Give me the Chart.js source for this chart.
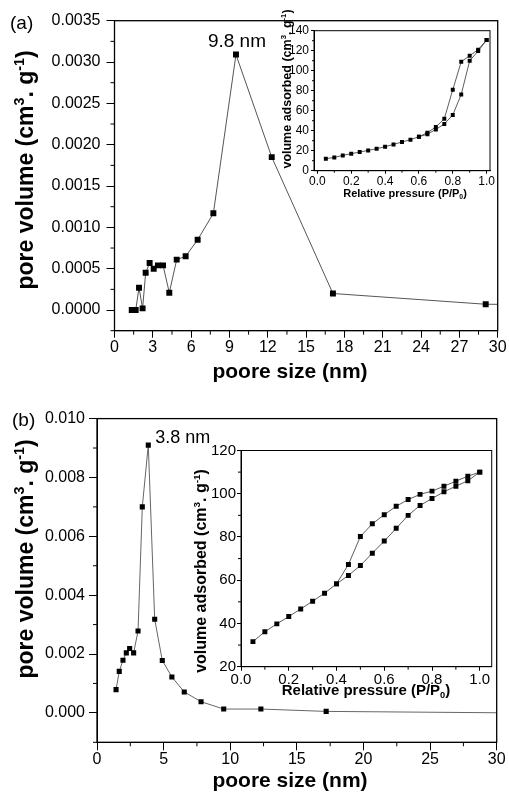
<!DOCTYPE html>
<html>
<head>
<meta charset="utf-8">
<script src="https://cdn.jsdelivr.net/npm/chart.js@4.4.0/dist/chart.umd.min.js"></script>
<style>
  html, body { margin: 0; padding: 0; background: #fff; }
  body { width: 509px; height: 793px; position: relative; overflow: hidden; }
  .box { position: absolute; }
</style>
</head>
<body>
<div class="box" style="left:0;top:0;width:509px;height:390px"><canvas id="mainA" width="509" height="390"></canvas></div>
<div class="box" style="left:0;top:390px;width:509px;height:403px"><canvas id="mainB" width="509" height="403"></canvas></div>
<div class="box" style="left:270px;top:0;width:239px;height:205px"><canvas id="insetA" width="239" height="205"></canvas></div>
<div class="box" style="left:180px;top:440px;width:329px;height:270px"><canvas id="insetB" width="329" height="270"></canvas></div>

<script>
// panel (a) pore size distribution
const poreSizeA = [1.35, 1.66, 1.92, 2.2, 2.44, 2.75, 3.07, 3.4, 3.8, 4.29, 4.87, 5.57, 6.51, 7.74, 9.51, 12.31, 17.1, 29.06, 50];
const poreVolA = [0.00000, 0.00000, 0.00027, 0.00002, 0.00045, 0.00057, 0.00050, 0.00054, 0.00054, 0.00021, 0.00061, 0.00065, 0.00085, 0.00117, 0.00309, 0.00185, 0.00020, 0.00007, 0.00005];
const xTicksA = [0, 3, 6, 9, 12, 15, 18, 21, 24, 27, 30];
const yTicksA = [0, 0.0005, 0.001, 0.0015, 0.002, 0.0025, 0.003, 0.0035];

// panel (a) inset isotherm
const pressureA = [0.05, 0.1, 0.15, 0.2, 0.25, 0.3, 0.35, 0.4, 0.45, 0.5, 0.55, 0.6, 0.65, 0.7, 0.75, 0.8, 0.85, 0.9, 0.95, 1.0];
const adsorbA = [12, 13.3, 15.3, 17, 18.7, 20.3, 22, 24, 26.3, 28.7, 31, 34, 36.5, 41.3, 46.7, 55.7, 76.3, 110, 119.7, 130.7];
const desPressureA = [1.0, 0.95, 0.9, 0.85, 0.8, 0.75, 0.7, 0.65, 0.6];
const desorbA = [130.7, 121, 115, 109, 81, 52, 43.7, 38, 34];
const insetXTicks = [0, 0.2, 0.4, 0.6, 0.8, 1.0];
const insetYTicksA = [0, 20, 40, 60, 80, 100, 120, 140];

// panel (b) pore size distribution
const poreSizeB = [1.43, 1.67, 1.95, 2.2, 2.45, 2.75, 3.08, 3.4, 3.85, 4.33, 4.9, 5.62, 6.55, 7.81, 9.51, 12.3, 17.2, 45];
const poreVolB = [0.00079, 0.00141, 0.00179, 0.00204, 0.00219, 0.00204, 0.00278, 0.0070, 0.0091, 0.00318, 0.00178, 0.00122, 0.00071, 0.00038, 0.00013, 0.00013, 0.00005, -0.00005];
const xTicksB = [0, 5, 10, 15, 20, 25, 30];
const yTicksB = [0, 0.002, 0.004, 0.006, 0.008, 0.010];

// panel (b) inset isotherm
const pressureB = [0.05, 0.1, 0.15, 0.2, 0.25, 0.3, 0.35, 0.4, 0.45, 0.5, 0.55, 0.6, 0.65, 0.7, 0.75, 0.8, 0.85, 0.9, 0.95, 1.0];
const adsorbB = [31.6, 36.2, 39.8, 43.2, 46.7, 50.3, 54, 58.3, 62.2, 66.8, 72.5, 78.1, 84, 90, 94.6, 97.8, 100.9, 103.5, 106, 110];
const desPressureB = [1.0, 0.95, 0.9, 0.85, 0.8, 0.75, 0.7, 0.65, 0.6, 0.55, 0.5, 0.45, 0.4];
const desorbB = [110, 108.1, 105.8, 103.5, 101.2, 99.7, 97.3, 94.2, 90.3, 86.1, 80.2, 67.3, 58.3];
const insetYTicksB = [20, 40, 60, 80, 100, 120];

const FONT = '"Liberation Sans", Arial, Helvetica, sans-serif';
Chart.defaults.font.family = FONT;
Chart.defaults.color = '#000';

function pts(xs, ys) {
  return xs.map((x, i) => ({ x, y: ys[i] }));
}

// text made of runs: [text, 0 normal | 1 superscript | -1 subscript]
function drawRuns(ctx, t) {
  const fontOf = (k) => `${t.bold ? 'bold ' : ''}${k ? t.size * 0.62 : t.size}px ${FONT}`;
  const parts = t.runs.map(([s, k]) => {
    ctx.font = fontOf(k);
    return { s, k, w: ctx.measureText(s).width };
  });
  const total = parts.reduce((a, p) => a + p.w, 0);
  ctx.save();
  ctx.translate(t.x, t.y);
  if (t.rot) ctx.rotate(t.rot);
  ctx.fillStyle = '#000';
  ctx.textBaseline = 'alphabetic';
  ctx.textAlign = 'left';
  let cx = t.align === 'left' ? 0 : -total / 2;
  parts.forEach(p => {
    ctx.font = fontOf(p.k);
    const dy = p.k === 1 ? -t.size * 0.38 : p.k === -1 ? t.size * 0.22 : 0;
    ctx.fillText(p.s, cx, dy);
    cx += p.w;
  });
  ctx.restore();
}

const volTitle = [['pore volume (cm', 0], ['3', 1], ['. g', 0], ['-1', 1], [')', 0]];
const adsTitle = [['volume adsorbed (cm', 0], ['3', 1], ['. g', 0], ['-1', 1], [')', 0]];
const presTitle = [['Relative pressure (P/P', 0], ['0', -1], [')', 0]];

const extras = {
  mainA: { frame: 1.3, minor: 4, texts: [
    { runs: [['(a)', 0]], x: 10, y: 29, size: 19, align: 'left' },
    { runs: volTitle, x: 33, y: 170, size: 23, bold: true, rot: -Math.PI / 2 },
    { runs: [['poore size (nm)', 0]], x: 290, y: 378, size: 21, bold: true },
    { runs: [['9.8 nm', 0]], data: [9.51, 0.00309], dx: 1, dy: -8, size: 19 }
  ] },
  mainB: { frame: 1.3, minor: 4, texts: [
    { runs: [['(b)', 0]], x: 12, y: 36, size: 19, align: 'left' },
    { runs: volTitle, x: 33, y: 169, size: 23, bold: true, rot: -Math.PI / 2 },
    { runs: [['poore size (nm)', 0]], x: 290, y: 397, size: 21, bold: true },
    { runs: [['3.8 nm', 0]], data: [3.85, 0.0091], dx: 7, dy: -2, size: 18, align: 'left' }
  ] },
  insetA: { frame: 1, minor: 2, texts: [
    { runs: adsTitle, x: 20.5, y: 89, size: 12.5, bold: true, rot: -Math.PI / 2 },
    { runs: presTitle, x: 135, y: 196.5, size: 11, bold: true }
  ] },
  insetB: { frame: 1, minor: 3, texts: [
    { runs: adsTitle, x: 26, y: 131, size: 16, bold: true, rot: -Math.PI / 2 },
    { runs: presTitle, x: 186, y: 254.5, size: 15, bold: true }
  ] }
};

const decor = {
  id: 'decor',
  afterDraw(chart) {
    const ex = extras[chart.canvas.id];
    if (!ex) return;
    const { ctx, chartArea: a } = chart;
    ctx.save();
    ctx.strokeStyle = '#000';
    ctx.lineWidth = ex.frame;
    ctx.strokeRect(a.left, a.top, a.right - a.left, a.bottom - a.top);

    // minor ticks halfway between the major ones
    ctx.lineWidth = 1;
    ['x', 'y'].forEach(id => {
      const s = chart.scales[id];
      const vals = s.ticks.map(t => t.value);
      const step = vals[1] - vals[0];
      for (let v = vals[0] - step / 2; v <= s.max + 1e-9; v += step) {
        if (v < s.min - 1e-9) continue;
        const p = s.getPixelForValue(v);
        ctx.beginPath();
        if (id === 'x') { ctx.moveTo(p, a.bottom); ctx.lineTo(p, a.bottom + ex.minor); }
        else { ctx.moveTo(a.left, p); ctx.lineTo(a.left - ex.minor, p); }
        ctx.stroke();
      }
    });

    ex.texts.forEach(t => {
      if (t.data) {
        t = Object.assign({}, t, {
          x: chart.scales.x.getPixelForValue(t.data[0]) + t.dx,
          y: chart.scales.y.getPixelForValue(t.data[1]) + t.dy
        });
      }
      drawRuns(ctx, t);
    });
    ctx.restore();
  }
};

function axis(ticksArr, min, max, fmt, size, tickLen, pad, fit, isX) {
  return {
    type: 'linear', min, max,
    afterBuildTicks: s => { s.ticks = ticksArr.map(v => ({ value: v })); },
    afterFit: s => { if (isX) s.height = fit; else s.width = fit; },
    ticks: { callback: fmt, font: { size }, color: '#000', padding: pad, autoSkip: false, maxRotation: 0 },
    grid: { drawOnChartArea: false, drawTicks: true, tickLength: tickLen, color: '#000', lineWidth: 1 },
    border: { display: true, color: '#000', width: 1 }
  };
}

function series(data, r, lineColor, lw) {
  return {
    data,
    borderColor: lineColor,
    borderWidth: lw,
    backgroundColor: '#000',
    pointStyle: 'rect',
    pointRadius: r,
    pointBackgroundColor: '#000',
    pointBorderColor: '#000',
    pointBorderWidth: 0,
    tension: 0
  };
}

function makeChart(id, datasets, scales, padding) {
  return new Chart(document.getElementById(id), {
    type: 'line',
    data: { datasets },
    options: {
      responsive: false,
      animation: false,
      devicePixelRatio: 1,
      layout: { padding },
      plugins: { legend: { display: false }, tooltip: { enabled: false } },
      scales
    },
    plugins: [decor]
  });
}

makeChart('mainA',
  [series(pts(poreSizeA, poreVolA), 4.2, '#555', 1)],
  {
    x: axis(xTicksA, 0, 30, v => String(v), 16, 7, 0, 59.3, true),
    y: axis(yTicksA, -0.00025, 0.0035, v => v.toFixed(4), 16, 8, 6, 114.5, false)
  },
  { left: 0, top: 20.7, right: 11.3, bottom: 0 });

makeChart('mainB',
  [series(pts(poreSizeB, poreVolB), 3.6, '#666', 1)],
  {
    x: axis(xTicksB, 0, 30, v => String(v), 16, 8, 0, 50.7, true),
    y: axis(yTicksB, -0.001, 0.010, v => v.toFixed(3), 16, 8, 4, 97, false)
  },
  { left: 0, top: 28.6, right: 12.3, bottom: 0 });

makeChart('insetA',
  [series(pts(pressureA, adsorbA), 2.8, '#333', 0.8), series(pts(desPressureA, desorbA), 2.8, '#333', 0.8)],
  {
    x: axis(insetXTicks, -0.02, 1.02, v => v.toFixed(1), 12, 3, 1, 34.3, true),
    y: axis(insetYTicksA, 0, 140, v => String(v), 12, 3, 2, 44, false)
  },
  { left: 0, top: 30.7, right: 19, bottom: 0 });

makeChart('insetB',
  [series(pts(pressureB, adsorbB), 3.5, '#333', 0.8), series(pts(desPressureB, desorbB), 3.5, '#333', 0.8)],
  {
    x: axis(insetXTicks, 0, 1.05, v => v.toFixed(1), 15, 4, 0, 43.3, true),
    y: axis(insetYTicksB, 20, 120, v => String(v), 15, 4, 1, 61, false)
  },
  { left: 0, top: 10.5, right: 17.3, bottom: 0 });
</script>
</body>
</html>
